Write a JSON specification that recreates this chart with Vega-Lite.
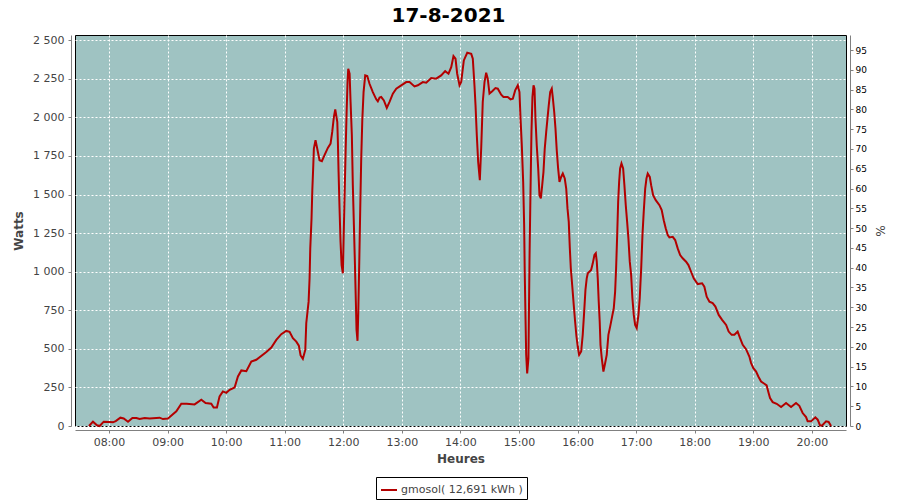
{
  "$schema": "https://vega.github.io/schema/vega-lite/v6.json",
  "width": 771,
  "height": 391,
  "autosize": {"type": "none"},
  "padding": {"left": 75, "top": 35, "right": 54, "bottom": 74},
  "background": "white",
  "title": {"text": "17-8-2021", "font": "DejaVu Sans", "fontSize": 20, "fontWeight": "bold", "color": "black", "offset": 8, "dx": -12},
  "config": {
    "locale": {"number": {"decimal": ",", "thousands": " ", "grouping": [3], "currency": ["", " €"]}},
    "view": {"fill": "#9fc3c2", "stroke": "black", "strokeWidth": 1},
    "axis": {
      "labelFont": "DejaVu Sans", "titleFont": "DejaVu Sans",
      "domainColor": "#808080", "tickColor": "#808080", "tickSize": 3,
      "labelColor": "#444444", "labelFontSize": 11,
      "titleColor": "#444444", "titleFontSize": 12, "titleFontWeight": "bold",
      "gridColor": "white", "gridDash": [2, 2], "gridOpacity": 1, "gridWidth": 1
    }
  },
  "data": {
    "values": [
      {"t":"2021-08-17T07:39:30Z","w":0},{"t":"2021-08-17T07:43:36Z","w":28},{"t":"2021-08-17T07:47:42Z","w":5},{"t":"2021-08-17T07:50:30Z","w":0},{"t":"2021-08-17T07:54:36Z","w":28},
      {"t":"2021-08-17T08:00:42Z","w":26},{"t":"2021-08-17T08:04:06Z","w":24},{"t":"2021-08-17T08:06:54Z","w":32},{"t":"2021-08-17T08:11:42Z","w":54},{"t":"2021-08-17T08:15:06Z","w":49},
      {"t":"2021-08-17T08:19:30Z","w":28},{"t":"2021-08-17T08:24:00Z","w":52},{"t":"2021-08-17T08:28:06Z","w":52},{"t":"2021-08-17T08:31:24Z","w":45},{"t":"2021-08-17T08:36:36Z","w":52},
      {"t":"2021-08-17T08:41:42Z","w":48},{"t":"2021-08-17T08:51:54Z","w":54},{"t":"2021-08-17T08:55:18Z","w":45},{"t":"2021-08-17T09:00:24Z","w":48},{"t":"2021-08-17T09:04:54Z","w":73},
      {"t":"2021-08-17T09:09:00Z","w":95},{"t":"2021-08-17T09:14:06Z","w":144},{"t":"2021-08-17T09:19:36Z","w":144},{"t":"2021-08-17T09:27:42Z","w":140},{"t":"2021-08-17T09:34:36Z","w":170},
      {"t":"2021-08-17T09:39:00Z","w":149},{"t":"2021-08-17T09:44:48Z","w":144},{"t":"2021-08-17T09:47:12Z","w":120},{"t":"2021-08-17T09:50:36Z","w":120},{"t":"2021-08-17T09:53:18Z","w":192},
      {"t":"2021-08-17T09:56:42Z","w":224},{"t":"2021-08-17T10:00:12Z","w":215},{"t":"2021-08-17T10:03:36Z","w":235},{"t":"2021-08-17T10:08:42Z","w":250},{"t":"2021-08-17T10:12:06Z","w":321},
      {"t":"2021-08-17T10:15:36Z","w":360},{"t":"2021-08-17T10:20:42Z","w":355},{"t":"2021-08-17T10:25:48Z","w":418},{"t":"2021-08-17T10:30:54Z","w":429},{"t":"2021-08-17T10:41:12Z","w":479},
      {"t":"2021-08-17T10:46:18Z","w":508},{"t":"2021-08-17T10:51:24Z","w":558},{"t":"2021-08-17T10:56:30Z","w":595},{"t":"2021-08-17T11:01:36Z","w":616},{"t":"2021-08-17T11:05:00Z","w":610},
      {"t":"2021-08-17T11:08:24Z","w":569},{"t":"2021-08-17T11:11:54Z","w":547},{"t":"2021-08-17T11:14:30Z","w":521},{"t":"2021-08-17T11:16:18Z","w":457},{"t":"2021-08-17T11:18:36Z","w":435},
      {"t":"2021-08-17T11:21:06Z","w":493},{"t":"2021-08-17T11:22:06Z","w":666},{"t":"2021-08-17T11:24:30Z","w":806},{"t":"2021-08-17T11:25:30Z","w":957},{"t":"2021-08-17T11:26:12Z","w":1151},
      {"t":"2021-08-17T11:27:30Z","w":1345},{"t":"2021-08-17T11:28:18Z","w":1528},{"t":"2021-08-17T11:29:18Z","w":1690},{"t":"2021-08-17T11:29:54Z","w":1798},{"t":"2021-08-17T11:31:36Z","w":1852},
      {"t":"2021-08-17T11:33:00Z","w":1808},{"t":"2021-08-17T11:35:42Z","w":1722},{"t":"2021-08-17T11:38:06Z","w":1716},{"t":"2021-08-17T11:40:48Z","w":1755},{"t":"2021-08-17T11:44:12Z","w":1802},
      {"t":"2021-08-17T11:47:00Z","w":1830},{"t":"2021-08-17T11:48:42Z","w":1906},{"t":"2021-08-17T11:50:24Z","w":2003},{"t":"2021-08-17T11:51:48Z","w":2052},{"t":"2021-08-17T11:53:54Z","w":1970},
      {"t":"2021-08-17T11:54:30Z","w":1841},{"t":"2021-08-17T11:55:12Z","w":1647},{"t":"2021-08-17T11:56:12Z","w":1410},{"t":"2021-08-17T11:57:12Z","w":1194},{"t":"2021-08-17T11:58:18Z","w":1043},
      {"t":"2021-08-17T11:59:36Z","w":990},{"t":"2021-08-17T12:00:18Z","w":1194},{"t":"2021-08-17T12:01:18Z","w":1475},{"t":"2021-08-17T12:02:24Z","w":1776},{"t":"2021-08-17T12:03:24Z","w":2025},
      {"t":"2021-08-17T12:04:24Z","w":2229},{"t":"2021-08-17T12:05:06Z","w":2315},{"t":"2021-08-17T12:06:30Z","w":2283},{"t":"2021-08-17T12:07:30Z","w":2100},{"t":"2021-08-17T12:08:48Z","w":1884},
      {"t":"2021-08-17T12:09:48Z","w":1561},{"t":"2021-08-17T12:10:54Z","w":1302},{"t":"2021-08-17T12:11:54Z","w":1065},{"t":"2021-08-17T12:12:54Z","w":806},{"t":"2021-08-17T12:13:36Z","w":623},
      {"t":"2021-08-17T12:14:36Z","w":552},{"t":"2021-08-17T12:15:24Z","w":741},{"t":"2021-08-17T12:16:24Z","w":1065},{"t":"2021-08-17T12:17:24Z","w":1410},{"t":"2021-08-17T12:18:24Z","w":1733},
      {"t":"2021-08-17T12:19:30Z","w":1981},{"t":"2021-08-17T12:20:48Z","w":2164},{"t":"2021-08-17T12:22:30Z","w":2272},{"t":"2021-08-17T12:24:36Z","w":2268},{"t":"2021-08-17T12:26:54Z","w":2218},
      {"t":"2021-08-17T12:30:18Z","w":2164},{"t":"2021-08-17T12:33:48Z","w":2117},{"t":"2021-08-17T12:35:24Z","w":2104},{"t":"2021-08-17T12:37:12Z","w":2128},{"t":"2021-08-17T12:38:54Z","w":2132},
      {"t":"2021-08-17T12:41:36Z","w":2110},{"t":"2021-08-17T12:44:36Z","w":2061},{"t":"2021-08-17T12:47:24Z","w":2100},{"t":"2021-08-17T12:50:48Z","w":2154},{"t":"2021-08-17T12:54:18Z","w":2186},
      {"t":"2021-08-17T12:59:24Z","w":2208},{"t":"2021-08-17T13:04:30Z","w":2229},{"t":"2021-08-17T13:07:54Z","w":2229},{"t":"2021-08-17T13:13:00Z","w":2201},{"t":"2021-08-17T13:16:24Z","w":2208},
      {"t":"2021-08-17T13:21:30Z","w":2229},{"t":"2021-08-17T13:25:00Z","w":2225},{"t":"2021-08-17T13:30:06Z","w":2255},{"t":"2021-08-17T13:35:12Z","w":2251},{"t":"2021-08-17T13:40:18Z","w":2272},
      {"t":"2021-08-17T13:44:24Z","w":2300},{"t":"2021-08-17T13:47:48Z","w":2283},{"t":"2021-08-17T13:50:36Z","w":2326},{"t":"2021-08-17T13:52:54Z","w":2397},{"t":"2021-08-17T13:55:00Z","w":2380},
      {"t":"2021-08-17T13:56:42Z","w":2283},{"t":"2021-08-17T13:59:06Z","w":2208},{"t":"2021-08-17T14:00:48Z","w":2229},{"t":"2021-08-17T14:03:30Z","w":2369},{"t":"2021-08-17T14:07:00Z","w":2419},
      {"t":"2021-08-17T14:11:06Z","w":2412},{"t":"2021-08-17T14:12:42Z","w":2380},{"t":"2021-08-17T14:14:24Z","w":2208},{"t":"2021-08-17T14:15:30Z","w":2078},{"t":"2021-08-17T14:16:48Z","w":1884},
      {"t":"2021-08-17T14:18:12Z","w":1711},{"t":"2021-08-17T14:19:54Z","w":1593},{"t":"2021-08-17T14:21:18Z","w":1800},{"t":"2021-08-17T14:22:54Z","w":2100},{"t":"2021-08-17T14:24:42Z","w":2229},
      {"t":"2021-08-17T14:26:24Z","w":2290},{"t":"2021-08-17T14:28:00Z","w":2251},{"t":"2021-08-17T14:29:48Z","w":2154},{"t":"2021-08-17T14:32:36Z","w":2169},{"t":"2021-08-17T14:35:54Z","w":2190},
      {"t":"2021-08-17T14:38:18Z","w":2186},{"t":"2021-08-17T14:41:48Z","w":2147},{"t":"2021-08-17T14:44:06Z","w":2132},{"t":"2021-08-17T14:48:30Z","w":2132},{"t":"2021-08-17T14:51:18Z","w":2117},
      {"t":"2021-08-17T14:53:42Z","w":2121},{"t":"2021-08-17T14:56:06Z","w":2175},{"t":"2021-08-17T14:58:48Z","w":2208},{"t":"2021-08-17T15:00:30Z","w":2164},{"t":"2021-08-17T15:01:36Z","w":1992},
      {"t":"2021-08-17T15:02:54Z","w":1819},{"t":"2021-08-17T15:04:18Z","w":1582},{"t":"2021-08-17T15:05:18Z","w":1302},{"t":"2021-08-17T15:05:54Z","w":1000},{"t":"2021-08-17T15:06:42Z","w":698},
      {"t":"2021-08-17T15:07:24Z","w":461},{"t":"2021-08-17T15:08:24Z","w":340},{"t":"2021-08-17T15:09:42Z","w":440},{"t":"2021-08-17T15:10:48Z","w":1087},{"t":"2021-08-17T15:11:48Z","w":1517},
      {"t":"2021-08-17T15:12:48Z","w":1906},{"t":"2021-08-17T15:13:48Z","w":2132},{"t":"2021-08-17T15:14:54Z","w":2208},{"t":"2021-08-17T15:15:54Z","w":2186},{"t":"2021-08-17T15:16:54Z","w":1992},
      {"t":"2021-08-17T15:18:12Z","w":1819},{"t":"2021-08-17T15:19:42Z","w":1669},{"t":"2021-08-17T15:21:00Z","w":1496},{"t":"2021-08-17T15:22:24Z","w":1475},{"t":"2021-08-17T15:23:48Z","w":1561},
      {"t":"2021-08-17T15:25:06Z","w":1647},{"t":"2021-08-17T15:26:24Z","w":1798},{"t":"2021-08-17T15:27:54Z","w":1906},{"t":"2021-08-17T15:29:12Z","w":1992},{"t":"2021-08-17T15:30:30Z","w":2078},
      {"t":"2021-08-17T15:32:00Z","w":2164},{"t":"2021-08-17T15:33:36Z","w":2186},{"t":"2021-08-17T15:34:36Z","w":2132},{"t":"2021-08-17T15:36:06Z","w":2035},{"t":"2021-08-17T15:37:24Z","w":1927},
      {"t":"2021-08-17T15:38:42Z","w":1787},{"t":"2021-08-17T15:40:06Z","w":1669},{"t":"2021-08-17T15:41:30Z","w":1582},{"t":"2021-08-17T15:43:12Z","w":1614},{"t":"2021-08-17T15:44:54Z","w":1636},
      {"t":"2021-08-17T15:46:54Z","w":1604},{"t":"2021-08-17T15:48:24Z","w":1539},{"t":"2021-08-17T15:49:42Z","w":1410},{"t":"2021-08-17T15:51:00Z","w":1323},{"t":"2021-08-17T15:52:06Z","w":1151},
      {"t":"2021-08-17T15:53:06Z","w":1022},{"t":"2021-08-17T15:54:30Z","w":914},{"t":"2021-08-17T15:56:06Z","w":785},{"t":"2021-08-17T15:57:30Z","w":677},{"t":"2021-08-17T15:58:54Z","w":580},
      {"t":"2021-08-17T16:00:12Z","w":515},{"t":"2021-08-17T16:01:36Z","w":461},{"t":"2021-08-17T16:03:42Z","w":483},{"t":"2021-08-17T16:05:18Z","w":591},{"t":"2021-08-17T16:06:48Z","w":741},
      {"t":"2021-08-17T16:08:06Z","w":882},{"t":"2021-08-17T16:09:24Z","w":957},{"t":"2021-08-17T16:10:30Z","w":990},{"t":"2021-08-17T16:13:54Z","w":1011},{"t":"2021-08-17T16:15:36Z","w":1054},
      {"t":"2021-08-17T16:17:18Z","w":1108},{"t":"2021-08-17T16:18:42Z","w":1119},{"t":"2021-08-17T16:19:42Z","w":1065},{"t":"2021-08-17T16:20:42Z","w":957},{"t":"2021-08-17T16:21:42Z","w":806},
      {"t":"2021-08-17T16:22:42Z","w":677},{"t":"2021-08-17T16:23:30Z","w":526},{"t":"2021-08-17T16:24:48Z","w":440},{"t":"2021-08-17T16:26:30Z","w":353},{"t":"2021-08-17T16:28:18Z","w":408},
      {"t":"2021-08-17T16:29:54Z","w":461},{"t":"2021-08-17T16:31:36Z","w":591},{"t":"2021-08-17T16:33:24Z","w":644},{"t":"2021-08-17T16:35:24Z","w":709},{"t":"2021-08-17T16:37:06Z","w":763},
      {"t":"2021-08-17T16:38:30Z","w":871},{"t":"2021-08-17T16:39:30Z","w":1022},{"t":"2021-08-17T16:40:36Z","w":1237},{"t":"2021-08-17T16:41:36Z","w":1453},{"t":"2021-08-17T16:42:36Z","w":1582},
      {"t":"2021-08-17T16:43:36Z","w":1669},{"t":"2021-08-17T16:45:00Z","w":1701},{"t":"2021-08-17T16:46:42Z","w":1669},{"t":"2021-08-17T16:48:00Z","w":1561},{"t":"2021-08-17T16:49:24Z","w":1431},
      {"t":"2021-08-17T16:50:48Z","w":1323},{"t":"2021-08-17T16:52:06Z","w":1216},{"t":"2021-08-17T16:53:30Z","w":1065},{"t":"2021-08-17T16:54:54Z","w":979},{"t":"2021-08-17T16:56:12Z","w":828},
      {"t":"2021-08-17T16:57:36Z","w":720},{"t":"2021-08-17T16:59:00Z","w":655},{"t":"2021-08-17T17:00:36Z","w":634},{"t":"2021-08-17T17:02:24Z","w":720},{"t":"2021-08-17T17:03:42Z","w":828},
      {"t":"2021-08-17T17:05:12Z","w":1022},{"t":"2021-08-17T17:06:30Z","w":1237},{"t":"2021-08-17T17:07:48Z","w":1388},{"t":"2021-08-17T17:09:18Z","w":1539},{"t":"2021-08-17T17:10:36Z","w":1604},
      {"t":"2021-08-17T17:11:54Z","w":1636},{"t":"2021-08-17T17:14:00Z","w":1614},{"t":"2021-08-17T17:15:24Z","w":1561},{"t":"2021-08-17T17:17:24Z","w":1496},{"t":"2021-08-17T17:20:06Z","w":1464},
      {"t":"2021-08-17T17:23:54Z","w":1431},{"t":"2021-08-17T17:26:12Z","w":1399},{"t":"2021-08-17T17:28:18Z","w":1334},{"t":"2021-08-17T17:30:18Z","w":1281},{"t":"2021-08-17T17:32:24Z","w":1237},
      {"t":"2021-08-17T17:34:06Z","w":1222},{"t":"2021-08-17T17:37:30Z","w":1226},{"t":"2021-08-17T17:40:00Z","w":1205},{"t":"2021-08-17T17:42:36Z","w":1151},{"t":"2021-08-17T17:45:06Z","w":1108},
      {"t":"2021-08-17T17:47:42Z","w":1087},{"t":"2021-08-17T17:51:12Z","w":1065},{"t":"2021-08-17T17:53:36Z","w":1043},{"t":"2021-08-17T17:55:36Z","w":1011},{"t":"2021-08-17T17:59:00Z","w":957},
      {"t":"2021-08-17T18:03:06Z","w":920},{"t":"2021-08-17T18:07:36Z","w":925},{"t":"2021-08-17T18:09:54Z","w":903},{"t":"2021-08-17T18:12:18Z","w":838},{"t":"2021-08-17T18:15:06Z","w":806},
      {"t":"2021-08-17T18:18:24Z","w":796},{"t":"2021-08-17T18:21:12Z","w":774},{"t":"2021-08-17T18:24:36Z","w":720},{"t":"2021-08-17T18:28:06Z","w":688},{"t":"2021-08-17T18:32:12Z","w":655},
      {"t":"2021-08-17T18:34:48Z","w":612},{"t":"2021-08-17T18:37:54Z","w":591},{"t":"2021-08-17T18:40:42Z","w":591},{"t":"2021-08-17T18:44:00Z","w":612},{"t":"2021-08-17T18:46:30Z","w":569},
      {"t":"2021-08-17T18:49:12Z","w":526},{"t":"2021-08-17T18:52:36Z","w":498},{"t":"2021-08-17T18:56:00Z","w":450},{"t":"2021-08-17T18:57:48Z","w":408},{"t":"2021-08-17T19:00:06Z","w":375},
      {"t":"2021-08-17T19:02:54Z","w":353},{"t":"2021-08-17T19:05:12Z","w":321},{"t":"2021-08-17T19:08:00Z","w":288},{"t":"2021-08-17T19:11:24Z","w":274},{"t":"2021-08-17T19:13:42Z","w":263},
      {"t":"2021-08-17T19:15:48Z","w":213},{"t":"2021-08-17T19:17:12Z","w":181},{"t":"2021-08-17T19:19:54Z","w":155},{"t":"2021-08-17T19:24:00Z","w":144},{"t":"2021-08-17T19:28:30Z","w":123},
      {"t":"2021-08-17T19:33:36Z","w":149},{"t":"2021-08-17T19:38:42Z","w":123},{"t":"2021-08-17T19:43:48Z","w":149},{"t":"2021-08-17T19:47:12Z","w":131},{"t":"2021-08-17T19:50:36Z","w":84},
      {"t":"2021-08-17T19:54:06Z","w":58},{"t":"2021-08-17T19:55:42Z","w":30},{"t":"2021-08-17T19:59:12Z","w":30},{"t":"2021-08-17T20:03:36Z","w":56},{"t":"2021-08-17T20:06:00Z","w":41},
      {"t":"2021-08-17T20:08:24Z","w":4},{"t":"2021-08-17T20:10:30Z","w":4},{"t":"2021-08-17T20:14:36Z","w":30},{"t":"2021-08-17T20:17:12Z","w":26},{"t":"2021-08-17T20:19:42Z","w":0}
    ]
  },
  "layer": [
    {
      "mark": {"type": "line", "strokeWidth": 2, "color": "#b30000"},
      "encoding": {
        "x": {
          "field": "t", "type": "temporal",
          "scale": {"type": "utc", "domain": [
            {"year": 2021, "month": 8, "date": 17, "hours": 7, "minutes": 25, "seconds": 12, "utc": true},
            {"year": 2021, "month": 8, "date": 17, "hours": 20, "minutes": 35, "seconds": 0, "utc": true}
          ]},
          "axis": {
            "title": "Heures", "format": "%H:%M", "tickCount": 13,
            "offset": 4, "labelPadding": 3, "labelFlush": false,
            "titlePadding": 6
          }
        },
        "y": {
          "field": "w", "type": "quantitative",
          "scale": {"domain": [0, 2534], "nice": false},
          "axis": {
            "title": "Watts", "format": ",d",
            "values": [0, 250, 500, 750, 1000, 1250, 1500, 1750, 2000, 2250, 2500],
            "offset": 4, "labelPadding": 4, "titlePadding": 7
          }
        },
        "color": {
          "datum": "gmosol( 12,691 kWh )",
          "type": "nominal",
          "scale": {"range": ["#b30000"]},
          "legend": {
            "title": null, "orient": "none", "legendX": 301, "legendY": 442,
            "padding": 4, "strokeColor": "black", "fillColor": "white",
            "symbolType": "stroke", "symbolSize": 256, "symbolStrokeWidth": 2,
            "labelFont": "DejaVu Sans", "labelFontSize": 11, "labelColor": "#444444", "labelOffset": 3
          }
        }
      }
    },
    {
      "data": {"values": [{"p": 0}]},
      "mark": {"type": "rule", "opacity": 0},
      "encoding": {
        "y": {
          "field": "p", "type": "quantitative",
          "scale": {"domain": [0, 98.8], "nice": false},
          "axis": {
            "orient": "right", "title": "%", "grid": false,
            "values": [0, 5, 10, 15, 20, 25, 30, 35, 40, 45, 50, 55, 60, 65, 70, 75, 80, 85, 90, 95],
            "offset": 4, "labelFontSize": 9, "labelColor": "black", "labelPadding": 2,
            "titlePadding": 6, "titleFontWeight": "normal", "titleColor": "#444444"
          }
        }
      }
    }
  ],
  "resolve": {"scale": {"y": "independent"}}
}
